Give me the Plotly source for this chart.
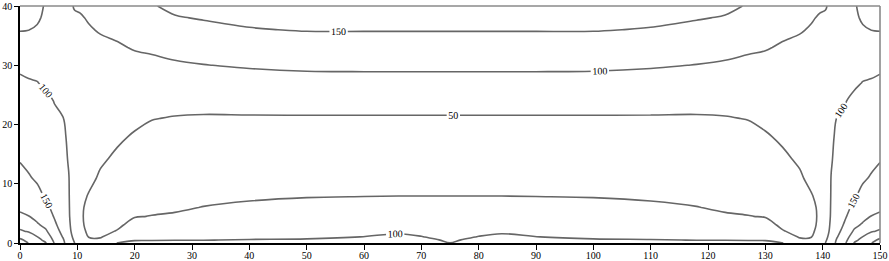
import plotly.graph_objects as go

# grid positions (data units)
x_values = [0, 1.5, 3, 4.5, 6, 7.5, 8.5, 9.5, 10.5, 12, 14, 17, 20, 23, 27, 32, 40, 50, 60, 66, 70, 73, 75,
            77, 80, 84, 90, 100, 110, 118, 123, 127, 130, 133, 136, 138, 139.5, 140.5, 141.5, 142.5, 144, 145.5, 147, 148.5, 150]
y_values = [0, 0.5, 1, 2, 3, 4.5, 6, 8, 11, 14, 18, 21, 24, 27, 30, 33, 36, 38, 40]

# field values, one list per x position (bottom -> top)
z_columns = [
    [340, 310, 290, 255, 237, 210, 190, 178, 162, 148, 136, 127, 117, 107, 93, 72, 48, 38, 32],
    [298, 285, 272, 246, 230, 201, 185, 172, 153, 142, 130, 122, 113, 103, 91, 71, 49.5, 40, 36],
    [275, 262, 252, 230, 206, 188, 176, 160, 145, 137, 127, 120, 111, 101, 90, 74, 54, 45, 42],
    [252, 240, 228, 206, 190, 172, 160, 146, 136, 129, 120, 114, 107, 95, 86, 76, 66, 57, 53],
    [198, 190, 182, 168, 158, 147, 138, 130, 122, 116, 110, 105, 99, 93, 87, 82, 78, 75, 72],
    [160, 155, 148, 138, 131, 124, 119, 115, 111, 108, 104, 100.5, 96, 93, 91, 90, 89, 88, 87],
    [126, 122, 117, 110, 107, 104, 103, 102, 101, 98, 96, 94, 93, 93, 93, 94, 95, 96, 97],
    [101, 95, 90, 84, 81, 79, 79, 80, 82, 84, 86, 87, 88, 89, 91, 93, 96, 98, 101],
    [85, 78, 70, 62, 57, 55, 56, 59, 64, 68, 72, 75, 79, 83, 87, 91, 96, 98, 103],
    [66, 57, 49, 43, 41, 41, 42, 48, 58, 63, 68, 72, 77, 82, 87, 93, 98, 102, 107],
    [78, 58, 47, 40, 37, 36, 37, 40, 46, 54, 61, 67, 73, 80, 87, 94, 102, 107, 113],
    [101, 88, 74, 52, 44, 38, 34, 33, 36, 44, 55, 62, 70, 79, 88, 97, 106, 112, 118],
    [104, 99, 90, 75, 62, 48, 40, 34, 31, 34, 47, 57, 68, 79, 91, 102, 113, 120, 128],
    [105, 99, 92, 78, 66, 51, 43, 36, 31, 31, 40, 51, 63, 76, 91, 106, 124, 136, 148],
    [106, 99.5, 94, 82, 70, 54, 45, 37, 31, 30, 38, 48, 62, 80, 95, 113, 132, 148, 156],
    [106, 99.5, 95, 85, 75, 61, 51, 40, 32, 30, 37, 47, 60, 77, 99, 120, 142, 152, 162],
    [107, 101, 96, 87, 79, 67, 56, 45, 34, 30, 36, 47, 62, 82, 104, 124, 148, 158, 166],
    [108, 102, 97, 89, 81, 70, 60, 48, 35, 30, 36, 47, 63, 86, 107, 130, 152, 161, 168],
    [108, 104, 100.5, 91, 83, 72, 62, 49, 36, 30, 36, 47, 63, 86, 108, 131, 152, 161, 168],
    [109, 106, 104, 97, 86, 74, 63, 49.5, 36, 30, 36, 47, 63, 86, 108, 131, 152, 161, 168],
    [108, 104, 101, 93, 84, 73, 62, 49.5, 36, 30, 36, 47, 63, 86, 108, 131, 152, 161, 168],
    [104, 100.5, 96, 90, 82, 72, 62, 49.5, 36, 30, 36, 47, 63, 86, 108, 131, 152, 161, 168],
    [100.3, 96, 93, 88, 81, 71, 62, 49.5, 36, 30, 36, 47, 63, 86, 108, 131, 152, 161, 168],
    [104, 100.5, 96, 90, 82, 72, 62, 49.5, 36, 30, 36, 47, 63, 86, 108, 131, 152, 161, 168],
    [108, 104, 101, 93, 84, 73, 62, 49.5, 36, 30, 36, 47, 63, 86, 108, 131, 152, 161, 168],
    [109, 106, 104, 97, 86, 74, 63, 49.5, 36, 30, 36, 47, 63, 86, 108, 131, 152, 161, 168],
    [108, 104, 100.5, 91, 83, 72, 62, 49, 36, 30, 36, 47, 63, 86, 108, 131, 152, 161, 168],
    [108, 102, 97, 89, 81, 70, 60, 48, 35, 30, 36, 47, 63, 86, 107, 130, 152, 161, 168],
    [107, 101, 96, 87, 79, 67, 56, 45, 34, 30, 36, 47, 62, 82, 104, 124, 148, 158, 166],
    [106, 99.5, 95, 85, 75, 61, 51, 40, 32, 30, 37, 47, 60, 77, 99, 120, 142, 152, 162],
    [106, 99.5, 94, 82, 70, 54, 45, 37, 31, 30, 38, 48, 62, 80, 95, 113, 132, 148, 156],
    [105, 99, 92, 78, 66, 51, 43, 36, 31, 31, 40, 51, 63, 76, 91, 106, 124, 136, 148],
    [104, 99, 90, 75, 62, 48, 40, 34, 31, 34, 47, 57, 68, 79, 91, 102, 113, 120, 128],
    [101, 88, 74, 52, 44, 38, 34, 33, 36, 44, 55, 62, 70, 79, 88, 97, 106, 112, 118],
    [78, 58, 47, 40, 37, 36, 37, 40, 46, 54, 61, 67, 73, 80, 87, 94, 102, 107, 113],
    [66, 57, 49, 43, 41, 41, 42, 48, 58, 63, 68, 72, 77, 82, 87, 93, 98, 102, 107],
    [85, 78, 70, 62, 57, 55, 56, 59, 64, 68, 72, 75, 79, 83, 87, 91, 96, 98, 103],
    [101, 95, 90, 84, 81, 79, 79, 80, 82, 84, 86, 87, 88, 89, 91, 93, 96, 98, 101],
    [126, 122, 117, 110, 107, 104, 103, 102, 101, 98, 96, 94, 93, 93, 93, 94, 95, 96, 97],
    [160, 155, 148, 138, 131, 124, 119, 115, 111, 108, 104, 100.5, 96, 93, 91, 90, 89, 88, 87],
    [198, 190, 182, 168, 158, 147, 138, 130, 122, 116, 110, 105, 99, 93, 87, 82, 78, 75, 72],
    [252, 240, 228, 206, 190, 172, 160, 146, 136, 129, 120, 114, 107, 95, 86, 76, 66, 57, 53],
    [275, 262, 252, 230, 206, 188, 176, 160, 145, 137, 127, 120, 111, 101, 90, 74, 54, 45, 42],
    [298, 285, 272, 246, 230, 201, 185, 172, 153, 142, 130, 122, 113, 103, 91, 71, 49.5, 40, 36],
    [340, 310, 290, 255, 237, 210, 190, 178, 162, 148, 136, 127, 117, 107, 93, 72, 48, 38, 32],
]

contour_levels = dict(start=50, end=300, size=50)
x_ticks = [0, 10, 20, 30, 40, 50, 60, 70, 80, 90, 100, 110, 120, 130, 140, 150]
y_ticks = [0, 10, 20, 30, 40]

serif = "Liberation Serif"

fig = go.Figure(go.Contour(
    x=x_values, y=y_values, z=z_columns, transpose=True,
    contours=dict(coloring="none", showlabels=True,
                  labelfont=dict(family=serif, size=10, color="black"),
                  **contour_levels),
    line=dict(color="#666666", width=1.6, smoothing=1.0),
    showscale=False, hoverinfo="skip",
))

fig.update_layout(
    template="none",
    width=889, height=261,
    margin=dict(l=20, r=9, t=6, b=18),
    paper_bgcolor="white", plot_bgcolor="white",
    showlegend=False,
    xaxis=dict(range=[0, 150], tickvals=x_ticks, ticks="outside", ticklen=5, tickwidth=1.2,
               tickcolor="black", showline=True, linecolor="black", linewidth=1.6,
               showgrid=False, zeroline=False, automargin=False, ticklabelstandoff=-3,
               tickfont=dict(family=serif, size=10, color="black")),
    yaxis=dict(range=[0, 40], tickvals=y_ticks, ticks="outside", ticklen=4, tickwidth=1.2,
               tickcolor="black", showline=True, linecolor="black", linewidth=1.6,
               showgrid=False, zeroline=False, automargin=False,
               tickfont=dict(family=serif, size=10, color="black")),
    shapes=[
        dict(type="line", xref="paper", yref="paper", x0=0, x1=1, y0=1, y1=1,
             line=dict(color="#8a8a8a", width=1.6)),
        dict(type="line", xref="paper", yref="paper", x0=1, x1=1, y0=0, y1=1,
             line=dict(color="#8a8a8a", width=1.6)),
    ],
)

fig.write_html("out.html", config={"displayModeBar": False},
               post_script="document.body.style.margin='0';document.body.style.overflow='hidden';")
